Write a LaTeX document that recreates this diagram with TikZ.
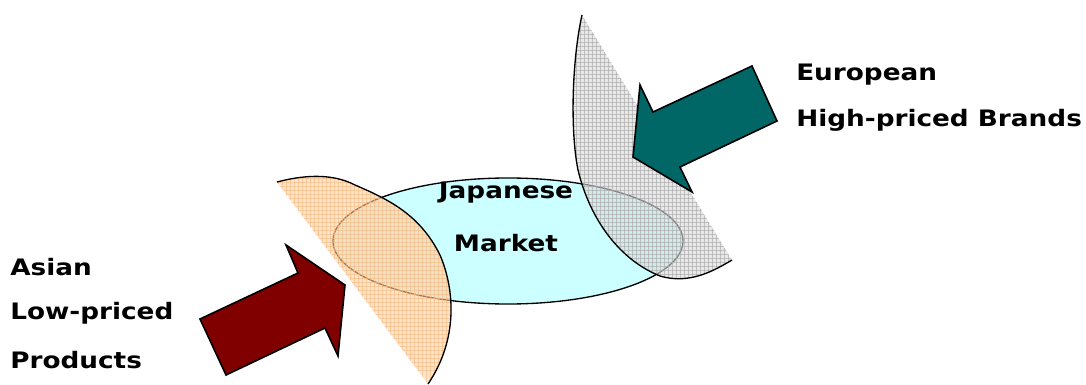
\documentclass[tikz,border=0pt]{standalone}
\usepackage{fontspec}
\setmainfont{DejaVu Sans}
\newfontfamily\lblfont[FakeStretch=1.16]{DejaVu Sans}
\begin{document}
\begin{tikzpicture}[x=0.75pt,y=-0.75pt,
  lbl/.style={font=\lblfont\bfseries\fontsize{17}{20}\selectfont, inner sep=0pt},
  mkt/.style={draw=black, line width=1pt, fill=mktcyan},
  arrowshape/.style={draw=black, line width=1.2pt, line join=miter}]
\definecolor{mktcyan}{HTML}{CCFFFF}
\definecolor{darkred}{HTML}{800000}
\definecolor{teal2}{HTML}{006666}
\definecolor{peach}{HTML}{FCD2AA}
\definecolor{peachline}{HTML}{F9B87C}
\useasboundingbox (0,0) rectangle (1086,385);
% market ellipse
\draw[mkt] (508,241) ellipse [x radius=175, y radius=63];
% Asian region
\fill[peach, fill opacity=0.6] (277,182) .. controls (300,176) and (330,172) .. (355,185)
   .. controls (390,200) and (420,215) .. (440,255)
   .. controls (455,290) and (458,340) .. (428,384) -- cycle;
\begin{scope}
\clip (277,182) .. controls (300,176) and (330,172) .. (355,185)
   .. controls (390,200) and (420,215) .. (440,255)
   .. controls (455,290) and (458,340) .. (428,384) -- cycle;
\foreach \i in {0,...,50} {
  \draw[peachline, line width=0.3pt, opacity=0.6] (270+4*\i,165) -- (270+4*\i,390);
  \draw[peachline, line width=0.3pt, opacity=0.6] (270,170+4*\i) -- (470,170+4*\i);
}
\end{scope}
\draw[line width=1pt] (277,182) .. controls (300,176) and (330,172) .. (355,185)
   .. controls (390,200) and (420,215) .. (440,255)
   .. controls (455,290) and (458,340) .. (428,384);
% European region
\fill[black!15, fill opacity=0.6] (582,15) .. controls (572,60) and (570,130) .. (578,170)
   .. controls (590,220) and (620,260) .. (660,276)
   .. controls (690,285) and (715,270) .. (732,260) -- cycle;
\begin{scope}
\clip (582,15) .. controls (572,60) and (570,130) .. (578,170)
   .. controls (590,220) and (620,260) .. (660,276)
   .. controls (690,285) and (715,270) .. (732,260) -- cycle;
\foreach \i in {0,...,70} {
  \draw[black!35, line width=0.3pt, opacity=0.6] (560+4*\i,10) -- (560+4*\i,290);
  \draw[black!35, line width=0.3pt, opacity=0.6] (560,10+4*\i) -- (740,10+4*\i);
}
\end{scope}
\draw[line width=1pt] (582,15) .. controls (572,60) and (570,130) .. (578,170)
   .. controls (590,220) and (620,260) .. (660,276)
   .. controls (690,285) and (715,270) .. (732,260);
% arrows
\draw[arrowshape, fill=darkred] (200,319) -- (298,273) -- (286,245) -- (345,285) -- (338,356) -- (325,328) -- (226,375) -- cycle;
\draw[arrowshape, fill=teal2] (752,66) -- (653,112) -- (640,85) -- (633,157) -- (692,192) -- (680,167) -- (777,121) -- cycle;
% labels
\node[lbl] (jp) at (506,193) {Japanese};
\node[lbl] (mk) at (506,243) {Market};
\node[lbl, anchor=west] (a1) at (10,267) {Asian};
\node[lbl, anchor=west] (a2) at (10,313) {Low-priced};
\node[lbl, anchor=west] (a3) at (10,360) {Products};
\node[lbl, anchor=west] (e1) at (796,75) {European};
\node[lbl, anchor=west] (e2) at (796,120) {High-priced Brands};
\end{tikzpicture}
\end{document}
